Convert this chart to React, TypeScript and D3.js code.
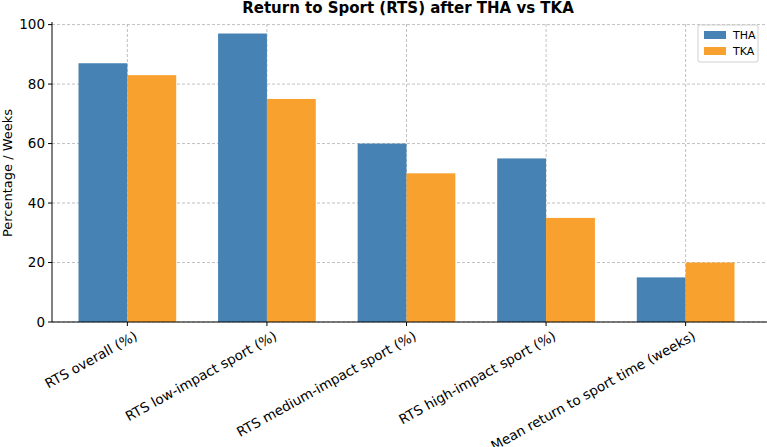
import * as d3 from "d3";
import { useEffect, useRef } from "react";

const categories = [
  "RTS overall (%)",
  "RTS low-impact sport (%)",
  "RTS medium-impact sport (%)",
  "RTS high-impact sport (%)",
  "Mean return to sport time (weeks)",
];
const thaValues = [87, 97, 60, 55, 15];
const tkaValues = [83, 75, 50, 35, 20];
const yTicks = [0, 20, 40, 60, 80, 100];
const series = [
  { name: "THA", values: thaValues, color: "#4682B4" },
  { name: "TKA", values: tkaValues, color: "#F9A12E" },
];

export default function App() {
  const ref = useRef<SVGSVGElement>(null);

  useEffect(() => {
    const svg = d3.select(ref.current!);
    svg.selectAll("*").remove();
    const W = 767;
    const left = 52, top = 24, bottom = 322;
    const x = d3.scaleLinear().domain([-0.54, 4.54]).range([left, 761]);
    const y = d3.scaleLinear().domain([0, 100.2]).range([bottom, top]);
    const bw = 0.35;
    const font = "DejaVu Sans, sans-serif";

    // grid
    const g = svg.append("g");
    yTicks.forEach((t) =>
      g.append("line").attr("x1", left).attr("x2", W).attr("y1", y(t)).attr("y2", y(t))
        .attr("stroke", "#b0b0b0").attr("stroke-dasharray", "3,2").attr("stroke-width", 0.8)
    );
    categories.forEach((_, i) =>
      g.append("line").attr("x1", x(i)).attr("x2", x(i)).attr("y1", top).attr("y2", bottom)
        .attr("stroke", "#b0b0b0").attr("stroke-dasharray", "3,2").attr("stroke-width", 0.8)
    );

    series.forEach((s, si) => {
      svg.append("g").selectAll("rect").data(s.values).join("rect")
        .attr("x", (_, i) => x(i - bw + si * bw))
        .attr("width", x(bw) - x(0))
        .attr("y", (d) => y(d))
        .attr("height", (d) => bottom - y(d))
        .attr("fill", s.color);
    });

    // axes
    svg.append("line").attr("x1", left).attr("x2", left).attr("y1", top - 2).attr("y2", bottom).attr("stroke", "#000");
    svg.append("line").attr("x1", left).attr("x2", W).attr("y1", bottom).attr("y2", bottom).attr("stroke", "#000");
    yTicks.forEach((t) => {
      svg.append("line").attr("x1", left - 4).attr("x2", left).attr("y1", y(t)).attr("y2", y(t)).attr("stroke", "#000");
      svg.append("text").attr("x", left - 7).attr("y", y(t)).attr("dy", "0.35em").attr("text-anchor", "end")
        .style("font-family", font).style("font-size", "13.5px").text(t);
    });
    categories.forEach((c, i) => {
      svg.append("line").attr("x1", x(i)).attr("x2", x(i)).attr("y1", bottom).attr("y2", bottom + 4).attr("stroke", "#000");
      svg.append("text")
        .attr("transform", `translate(${x(i) + 6},${bottom + 8}) rotate(-29)`)
        .attr("text-anchor", "end").attr("dy", "0.75em")
        .style("font-family", font).style("font-size", "13.5px").text(c);
    });

    svg.append("text").attr("transform", `translate(12,${(top + bottom) / 2}) rotate(-90)`)
      .attr("text-anchor", "middle").style("font-family", font).style("font-size", "13px")
      .text("Percentage / Weeks");
    svg.append("text").attr("x", 408).attr("y", 13).attr("text-anchor", "middle")
      .style("font-family", font).style("font-size", "15px").style("font-weight", "bold")
      .text("Return to Sport (RTS) after THA vs TKA");

    // legend
    const lg = svg.append("g").attr("transform", "translate(698,25)");
    lg.append("rect").attr("width", 60).attr("height", 37).attr("rx", 2).attr("fill", "#fff")
      .attr("stroke", "#d0d0d0");
    series.forEach((s, i) => {
      lg.append("rect").attr("x", 6).attr("y", 6 + i * 16).attr("width", 22).attr("height", 8).attr("fill", s.color);
      lg.append("text").attr("x", 35).attr("y", 10 + i * 16).attr("dy", "0.35em")
        .style("font-family", font).style("font-size", "11px").text(s.name);
    });
  }, []);

  return (
    <svg ref={ref} width={767} height={447}
      style={{ position: "absolute", left: 0, top: 0, background: "#fff" }} />
  );
}
